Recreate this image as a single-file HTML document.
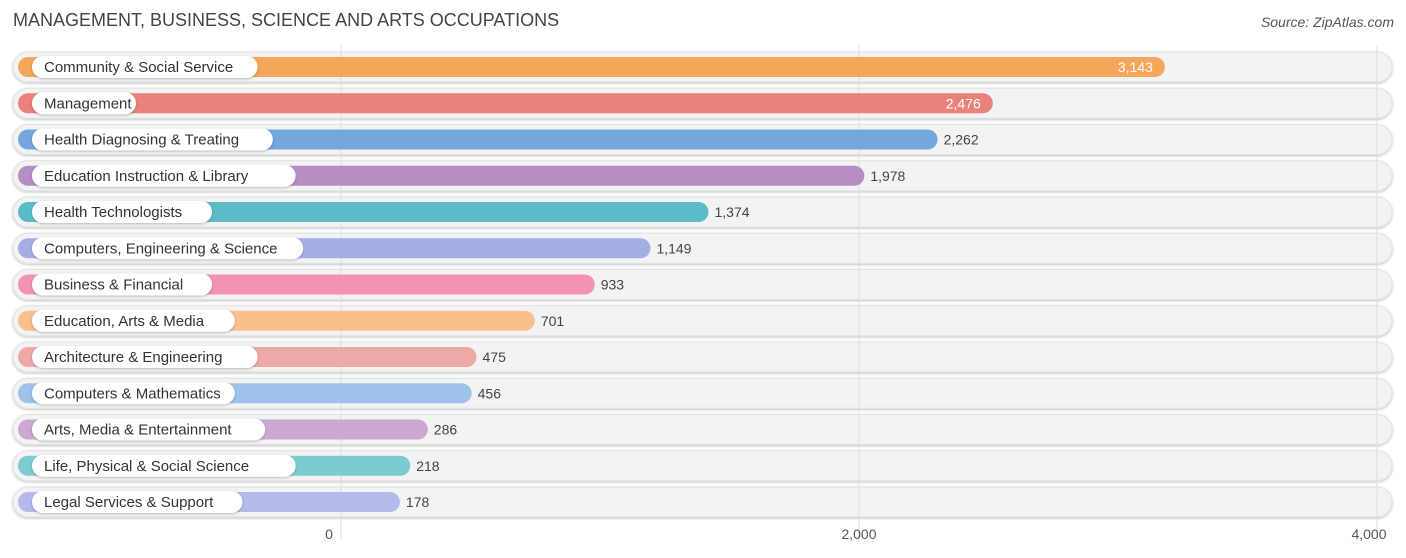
<!DOCTYPE html>
<html><head><meta charset="utf-8"><style>
body{margin:0;width:1406px;height:558px;background:#fff;font-family:"Liberation Sans",sans-serif;position:relative;overflow:hidden}
.t{position:absolute;left:13px;top:10px;font-size:18px;color:#444}
.src{position:absolute;right:12px;top:14px;font-size:14px;color:#555;font-style:italic}
</style></head><body>
<div class="t">MANAGEMENT, BUSINESS, SCIENCE AND ARTS OCCUPATIONS</div>
<div class="src">Source: ZipAtlas.com</div>
<svg id="c" width="1406" height="558" style="position:absolute;left:0;top:0"></svg>
<script>
const categories=["Community & Social Service","Management","Health Diagnosing & Treating","Education Instruction & Library","Health Technologists","Computers, Engineering & Science","Business & Financial","Education, Arts & Media","Architecture & Engineering","Computers & Mathematics","Arts, Media & Entertainment","Life, Physical & Social Science","Legal Services & Support"];
const values=[3143,2476,2262,1978,1374,1149,933,701,475,456,286,218,178];
const colors=["#f5a65b","#e8827a","#74a7e0","#b58fc4","#5bbcc8","#a5ade6","#f392b3","#f9c08e","#eda9a6","#9fc2ea","#cba9d1","#7ccbd1","#b4bbea"];
const ticks=[0,2000,4000];
const tickLabels=["0","2,000","4,000"];
const NS="http://www.w3.org/2000/svg";
const svg=document.getElementById('c');
const gx=v=>341+v*0.259;
const bx=v=>354+v*0.258;
const ry=i=>67+i*36.25;
function mk(t,a){const e=document.createElementNS(NS,t);for(const k in a)e.setAttribute(k,a[k]);svg.appendChild(e);return e;}
const defs=mk('defs',{});
defs.innerHTML='<filter id="sh" x="-10%" y="-30%" width="120%" height="160%"><feDropShadow dx="0" dy="1" stdDeviation="1.2" flood-color="#000" flood-opacity="0.25"/></filter>';
categories.forEach((c,i)=>{
  const y=ry(i);
  const bg=mk('rect',{x:13,y:y-15,width:1379,height:30,rx:15,fill:'#f3f3f3',stroke:'#e2e2e2','stroke-width':1,filter:'url(#sh)'});
  
  
});
ticks.forEach((t,i)=>{
  const l=mk('line',{x1:gx(t),x2:gx(t),y1:45,y2:540,stroke:'#ddd','stroke-width':1});
  
  
  const tx=mk('text',{x:gx(t)-(i==0?12:i==2?8:0),y:539,'font-size':14,fill:'#555','text-anchor':'middle'});
  tx.textContent=tickLabels[i];
  
  
});
categories.forEach((c,i)=>{
  const y=ry(i);
  const end=bx(values[i]);
  const b=mk('rect',{x:18,y:y-10,width:end-18,height:20,rx:10,fill:colors[i]});
  
  
  const lw=c.length*7.6+28;
  const p=mk('rect',{x:32,y:y-11,width:lw,height:22,rx:11,fill:'#fff',filter:'url(#sh)'});
  
  
  const lt=mk('text',{x:44,y:y+5,'font-size':15,fill:'#333'});
  lt.textContent=c;
  
  
  const inside=values[i]>2400;
  const vt=mk('text',{x:inside?end-12:end+6,y:y+5,'font-size':14,fill:inside?'#fff':'#444','text-anchor':inside?'end':'start'});
  vt.textContent=values[i].toLocaleString('en-US');
  
  
});
</script>
</body></html>
